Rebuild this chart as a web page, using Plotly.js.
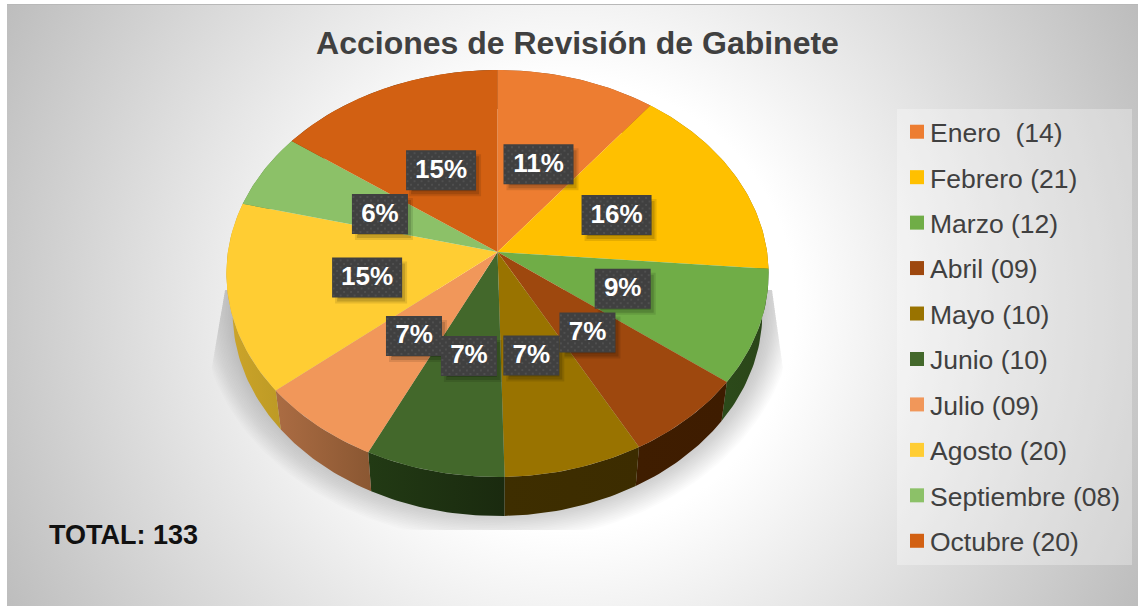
<!DOCTYPE html>
<html><head><meta charset="utf-8">
<script src="https://cdn.plot.ly/plotly-3.0.1.min.js"></script>
<style>
html,body{margin:0;padding:0;background:#fff;width:1138px;height:606px;overflow:hidden}
#bg{position:absolute;left:7px;top:4px;width:1131px;height:602px;box-sizing:border-box;border-top:1px solid #b8b8b8;
background:radial-gradient(circle at 563px 301px,#ffffff 0,#ffffff 225px,#bdbdbd 640px)}
#chart{position:absolute;left:0;top:0;width:1138px;height:606px}
</style></head><body><div id="bg"></div><div id="chart"></div>
<script>
const months=["Enero  (14)","Febrero (21)","Marzo (12)","Abril (09)","Mayo (10)","Junio (10)","Julio (09)","Agosto (20)","Septiembre (08)","Octubre (20)"];
const values=[14,21,12,9,10,10,9,20,8,20];
const pctLabels=["11%","16%","9%","7%","7%","7%","7%","15%","6%","15%"];
const topColors=["#ED7D31","#FFC000","#70AD47","#9E480E","#997300","#43682B","#F1975A","#FFCD33","#8CC168","#D26012"];
const sideLeft=["#8a4a1c","#8a6a00","#2c4a1a","#3f1d00","#3e2e00","#223a14","#ab6c43","#cda52a","#5a8040","#7a3808"];
const sideRight=["#8a4a1c","#8a6a00","#2a4519","#3e1c00","#3c2c00","#1a2a0f","#8a5732","#bd9a25","#5a8040","#7a3808"];
// hand-placement offsets of the data labels, as in the original
const nudgeX=[2,3,-3,-3.5,-4,2.5,5,1.5,-3,-1.5];
const nudgeY=[-3,1,0,-1,-2.5,-3.5,-1,3,2,-1.5];

// Perspective disc geometry (pixel axes)
const cx=497.5,cy=252,R=269.6,A=201.2,k=0.1057,depth=39,lowScale=0.977,labelFrac=0.49;
const total=values.reduce((a,b)=>a+b,0);
function proj(t,sx,dy,grow){
  const s=Math.sin(t),c=-Math.cos(t),d=1-k*c;
  return [cx+(R*sx+(grow||0))*s/d, cy+(A+(grow||0))*c/d+dy];
}
function arc(t0,t1,sx,dy){
  const n=Math.max(2,Math.ceil((t1-t0)/0.02)),p=[];
  for(let i=0;i<=n;i++)p.push(proj(t0+(t1-t0)*i/n,sx,dy));
  return p;
}
const bounds=[0];values.forEach(v=>bounds.push(bounds[bounds.length-1]+v/total*2*Math.PI));

const traces=[];
function poly(pts,opts){
  traces.push(Object.assign({type:'scatter',mode:'lines',x:pts.map(p=>p[0]),y:pts.map(p=>p[1]),
    fill:'toself',line:{width:0},hoverinfo:'skip',showlegend:false},opts));
}
// soft drop shadow under the disc, clipped to its image bounds
for(let g=32;g>=1;g-=1.5){
  const pts=[];
  for(let i=0;i<=240;i++){
    const t=i/240*2*Math.PI;
    let p=proj(t,lowScale,depth-10,g);
    const y=Math.min(Math.max(p[1],290),530);
    const xl=225-(y-290)*0.17, xr=772+(y-290)*0.14;
    pts.push([Math.min(Math.max(p[0],xl),xr),y]);
  }
  poly(pts,{fillcolor:'rgba(120,120,120,0.022)'});
}
// side walls
values.forEach((v,i)=>{
  const up=arc(bounds[i],bounds[i+1],1,0),lo=arc(bounds[i],bounds[i+1],lowScale,depth).reverse();
  const pts=up.concat(lo);pts.push(up[0]);
  poly(pts,{fillcolor:sideLeft[i],fillgradient:{type:'horizontal',colorscale:[[0,sideLeft[i]],[1,sideRight[i]]]}});
});
// top faces
values.forEach((v,i)=>{
  const pts=[[cx,cy]].concat(arc(bounds[i],bounds[i+1],1,0));pts.push([cx,cy]);
  poly(pts,{fillcolor:topColors[i]});
});
// data labels
const lbl=values.map((v,i)=>{
  const m=(bounds[i]+bounds[i+1])/2,p=proj(m,1,0);
  return {x:cx+(p[0]-cx)*labelFrac+nudgeX[i],y:cy+(p[1]-cy)*labelFrac+nudgeY[i],w:pctLabels[i].length>2?70:56,h:40};
});
function boxes(dx,dy,grow){
  const X=[],Y=[];
  lbl.forEach(b=>{
    const l=b.x-b.w/2+dx-grow,r=b.x+b.w/2+dx+grow,t=b.y-b.h/2+dy-grow,u=b.y+b.h/2+dy+grow;
    X.push(l,r,r,l,l,null);Y.push(t,t,u,u,t,null);
  });
  return {X,Y};
}
[[4,5,1,0.10],[4,5,-1,0.14],[3,4,-3,0.18]].forEach(s=>{
  const b=boxes(s[0],s[1],s[2]);
  traces.push({type:'scatter',mode:'lines',x:b.X,y:b.Y,fill:'toself',line:{width:0},fillcolor:'rgba(0,0,0,'+s[3]+')',hoverinfo:'skip',showlegend:false});
});
const b0=boxes(0,0,0);
traces.push({type:'scatter',mode:'lines',x:b0.X,y:b0.Y,fill:'toself',line:{width:0},fillcolor:'#404040',hoverinfo:'skip',showlegend:false});
const dx=[],dy=[];
lbl.forEach(b=>{
  for(let r=0,yy=b.y-b.h/2+3;yy<b.y+b.h/2-1;yy+=3.5,r++)
    for(let xx=b.x-b.w/2+(r%2?5:1.5);xx<b.x+b.w/2-1;xx+=7){dx.push(xx);dy.push(yy);}
});
traces.push({type:'scatter',mode:'markers',x:dx,y:dy,marker:{symbol:'square',size:2,color:'#4f4f4f',line:{width:0}},hoverinfo:'skip',showlegend:false});
traces.push({type:'scatter',mode:'text',x:lbl.map(b=>b.x),y:lbl.map(b=>b.y+1),text:pctLabels,textposition:'middle center',
  textfont:{family:'Liberation Sans',size:26,color:'#ffffff',weight:700},hoverinfo:'skip',showlegend:false});
// legend entries
months.forEach((m,i)=>{
  traces.push({type:'scatter',mode:'markers',x:[null],y:[null],name:m,legendgroup:'g'+i,
    marker:{symbol:'square',size:14,color:topColors[i],line:{width:0}},showlegend:true,hoverinfo:'skip'});
});
const layout={
  width:1138,height:606,margin:{l:0,r:0,t:0,b:0,pad:0},
  paper_bgcolor:'rgba(0,0,0,0)',plot_bgcolor:'rgba(0,0,0,0)',
  font:{family:'Liberation Sans',color:'#404040'},
  title:{text:'<b>Acciones de Revisión de Gabinete</b>',x:577.5/1138,xanchor:'center',xref:'paper',y:1-43/606,yanchor:'middle',yref:'paper',
    font:{family:'Liberation Sans',size:32,color:'#404040'}},
  xaxis:{range:[0,1138],visible:false,fixedrange:true},
  yaxis:{range:[606,0],visible:false,fixedrange:true},
  showlegend:true,
  legend:{x:890/1138,y:1-108/606,xanchor:'left',yanchor:'top',bgcolor:'rgba(0,0,0,0)',borderwidth:0,
    font:{family:'Liberation Sans',size:26.5,color:'#404040'},tracegroupgap:8,itemclick:false,itemdoubleclick:false,traceorder:'grouped'},
  shapes:[{type:'rect',xref:'x',yref:'y',x0:897,x1:1132,y0:109,y1:565,fillcolor:'rgba(255,255,255,0.3)',line:{width:0},layer:'below'}],
  annotations:[{xref:'x',yref:'y',x:47,y:535,xanchor:'left',yanchor:'middle',showarrow:false,text:'<b>TOTAL: 133</b>',
    font:{family:'Liberation Sans',size:27,color:'#111111'}}]
};
Plotly.newPlot('chart',traces,layout,{displayModeBar:false}).then(()=>{
  // the original sets its legend keys closer to the text
  document.querySelectorAll('.legend .legendpoints').forEach(g=>g.setAttribute('transform','translate(7,0)'));
});
</script></body></html>
